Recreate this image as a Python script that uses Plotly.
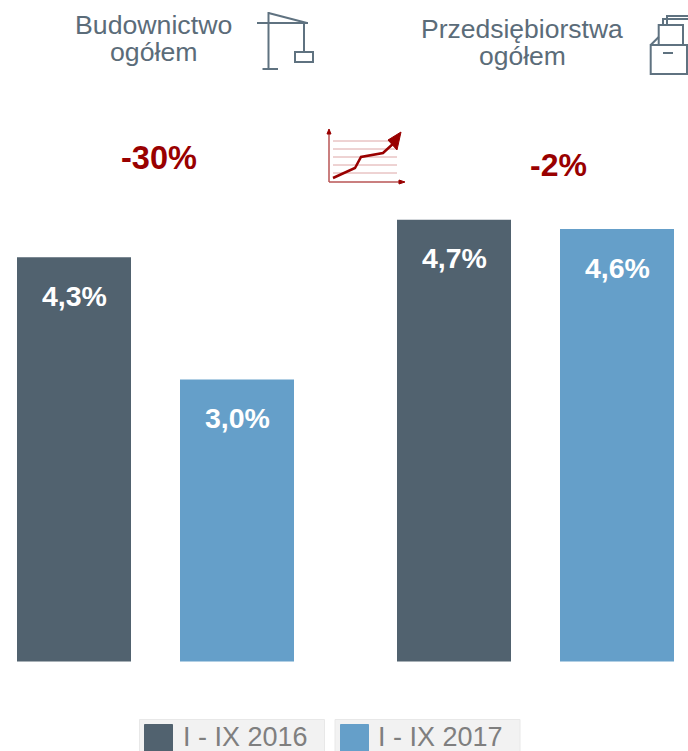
import plotly.graph_objects as go

categories = ["Budownictwo ogółem", "Przedsiębiorstwa ogółem"]
series_names = ["I - IX 2016", "I - IX 2017"]
values_2016 = [4.3, 4.7]
values_2017 = [3.0, 4.6]
labels_2016 = ["4,3%", "4,7%"]
labels_2017 = ["3,0%", "4,6%"]
changes = ["-30%", "-2%"]

W, H = 688, 751
DARK, LIGHT = "#51626F", "#659FC9"
TITLE = "#5B6C79"
RED = "#990000"
PALE = "#DDA6A6"
ICON = "#5F7280"
FONT = "Liberation Sans, Arial, sans-serif"


def px(x):
    return x / W


def py(y):
    return 1 - y / H


def line(x0, y0, x1, y1, color=ICON, width=2):
    return dict(type="line", xref="paper", yref="paper", x0=px(x0), y0=py(y0), x1=px(x1), y1=py(y1),
                line=dict(color=color, width=width))


def rect(x0, y0, x1, y1, color=ICON, width=2, fill="rgba(0,0,0,0)"):
    return dict(type="rect", xref="paper", yref="paper", x0=px(x0), y0=py(y0), x1=px(x1), y1=py(y1),
                line=dict(color=color, width=width), fillcolor=fill)


def path(points, color=ICON, width=2, fill=None):
    d = "M " + " L ".join(f"{px(x):.5f} {py(y):.5f}" for x, y in points)
    if fill:
        d += " Z"
    return dict(type="path", xref="paper", yref="paper", path=d,
                line=dict(color=color, width=width), fillcolor=fill or "rgba(0,0,0,0)")


def text(x, y, s, size, color, bold=False):
    return dict(xref="paper", yref="paper", x=px(x), y=py(y), text=f"<b>{s}</b>" if bold else s,
                showarrow=False, xanchor="center", yanchor="middle",
                font=dict(family=FONT, size=size, color=color))


fig = go.Figure()
fig.add_bar(x=[0, 1], y=values_2016, name=series_names[0], marker=dict(color=DARK, line_width=0))
fig.add_bar(x=[0, 1], y=values_2017, name=series_names[1], marker=dict(color=LIGHT, line_width=0))

annotations = [
    text(153.5, 25, "Budownictwo", 26.7, TITLE),
    text(153.5, 52, "ogółem", 26.7, TITLE),
    text(522, 29, "Przedsiębiorstwa", 26.5, TITLE),
    text(522, 56, "ogółem", 26.5, TITLE),
    text(159, 158, changes[0], 32.5, RED, True),
    text(558, 165, changes[1], 32, RED, True),
    text(245.5, 737, series_names[0], 27, "#7F7F7F"),
    text(440.5, 737, series_names[1], 27, "#7F7F7F"),
]
OFFSET = 81.5 / 380
for i in range(2):
    for vals, labs, sign in ((values_2016, labels_2016, -1), (values_2017, labels_2017, 1)):
        annotations.append(dict(x=i + sign * OFFSET, y=vals[i], xref="x", yref="y", text=f"<b>{labs[i]}</b>",
                                showarrow=False, xanchor="center", yanchor="middle", yshift=-38.5,
                                font=dict(family=FONT, size=28.5, color="white")))

shapes = [
    # crane
    line(268.5, 12, 268.5, 69), line(262.5, 69, 278, 69), line(257, 23, 308, 23),
    line(268.5, 13, 307, 23), line(304, 23, 304, 52), rect(295, 52, 313, 62),
    # boxes
    path([(667, 24), (667, 16), (690, 16)]), path([(663, 25), (663, 19), (690, 19)]),
    rect(658.7, 25, 683, 45), rect(650.7, 45, 687, 74, fill="white"),
    line(650.7, 45, 658.7, 37), line(663, 53, 673, 53),
    # trend icon
    *[line(333, y, 397, y, PALE, 1) for y in (141, 149, 157, 165, 173)],
    line(329, 133, 329, 182, "#B85555", 1.5), line(329, 182, 400, 182, "#B85555", 1.5),
    path([(329, 129), (327, 134), (331, 134)], RED, 1, RED),
    path([(405, 182), (399, 180), (399, 184)], RED, 1, RED),
    path([(333, 178), (355, 168), (361, 157), (383, 153), (395, 142)], RED, 2.5),
    path([(388, 140), (401, 132), (397, 150)], RED, 1, RED),
    # legend
    rect(139.5, 719.5, 324.5, 770, "#E8E8E8", 1, "#F2F2F2"),
    rect(335, 719.5, 520, 770, "#E8E8E8", 1, "#F2F2F2"),
    rect(144.5, 724.5, 172.5, 770, DARK, 1, DARK),
    rect(340.5, 724.5, 368.5, 770, LIGHT, 1, LIGHT),
]

fig.update_layout(
    width=W, height=H, autosize=False, margin=dict(l=0, r=0, t=0, b=0),
    paper_bgcolor="white", plot_bgcolor="white", showlegend=False,
    barmode="group", bargap=0.1421, bargroupgap=0.3006,
    xaxis=dict(range=[-155.5 / 380, 532.5 / 380], visible=False, fixedrange=True),
    yaxis=dict(range=[-89.5 / 94, 661.5 / 94], visible=False, fixedrange=True),
    annotations=annotations, shapes=shapes,
)
fig.write_html("out.html", config={"displayModeBar": False},
               post_script="document.body.style.margin='0';document.body.style.overflow='hidden';")
